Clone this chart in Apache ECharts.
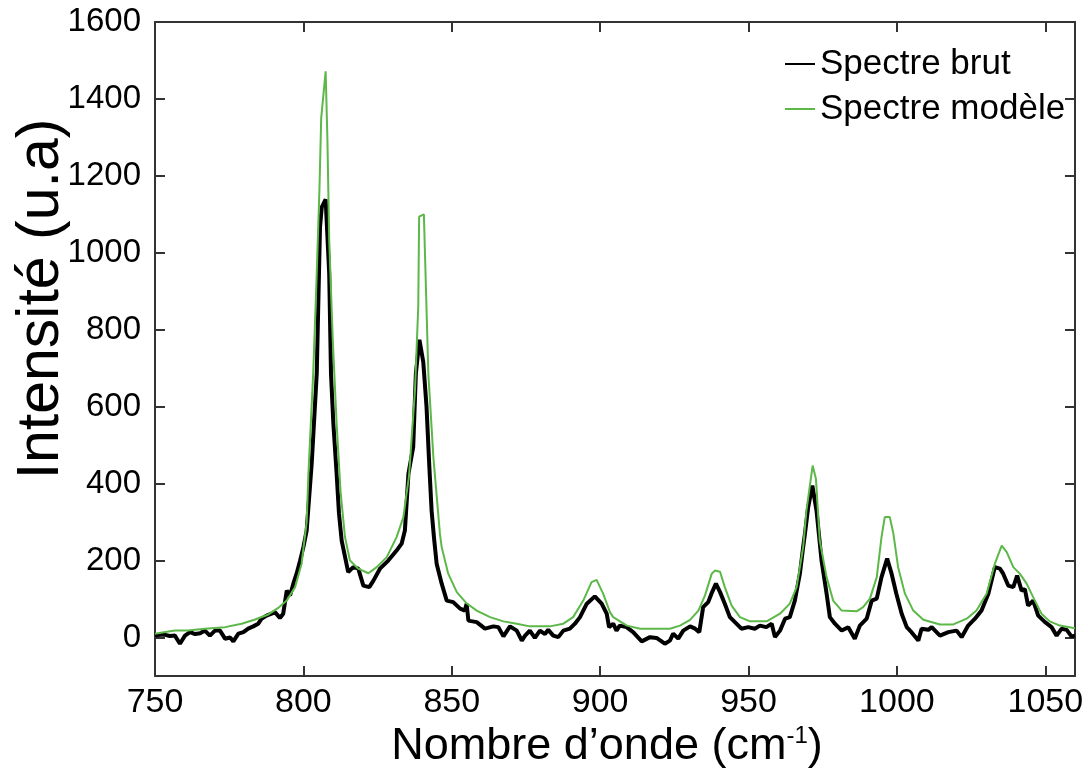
<!DOCTYPE html>
<html>
<head>
<meta charset="utf-8">
<script src="https://cdn.jsdelivr.net/npm/echarts@6/dist/echarts.min.js"></script>
<style>
  html, body { margin: 0; padding: 0; background: #fff; }
  #chart { width: 1088px; height: 769px; }
</style>
</head>
<body>
<div id="chart"></div>
<script>
// Spectre brut (raw spectrum)
var rawX = [750, 751.7, 753.4, 755, 756.7, 758.4, 760.1, 761.8, 763.5, 765.2, 766.8, 768.5, 770.2, 771.9, 773.6, 775.3, 776.4, 778.1, 779.8, 781.4,
  783.1, 784.8, 785.9, 787.6, 789.3, 790.4, 792.1, 793.2, 794.4, 795.5, 796.6, 797.7, 798.9, 800, 801.1, 802.8, 804.5, 805.6, 806.2, 807.5,
  808.7, 809.3, 810.1, 811.2, 812, 812.9, 815.1, 816.8, 818.5, 820.2, 822.2, 823.6, 825.8, 828.6, 831.4, 833.1, 834.2, 835.4, 837, 837.9,
  839.1, 840.4, 841.5, 842.4, 843.2, 844, 844.9, 846.6, 848.3, 850.5, 852.8, 854.4, 855, 855.6, 858.4, 861.2, 864, 865.7, 867.4, 869.6,
  871.9, 873.6, 874.7, 876.3, 878, 879.7, 881.4, 882.5, 884.2, 885.9, 887.6, 889.8, 891.5, 893.2, 895.5, 898.2, 900.5, 902.2, 903, 904.4,
  905.5, 906.6, 908.9, 911.1, 914, 916.8, 919, 921.8, 923.5, 924.6, 926.3, 928, 930.3, 932, 933.4, 934.7, 936.4, 937.5, 939, 940.4,
  942, 943.7, 945.4, 947.6, 949.9, 952.1, 953.8, 956, 957.8, 958.9, 960.6, 962.3, 963.9, 965.6, 967.3, 968.4, 969, 970.1, 971.5, 972.9,
  974.6, 976.3, 977.4, 979.1, 981.4, 983.6, 985.8, 987.5, 989.8, 991.5, 993.2, 994.8, 996.7, 998.2, 999.8, 1001.6, 1003.3, 1004.9, 1007.2, 1008.3,
  1010.6, 1011.7, 1014.5, 1017.3, 1020.1, 1021.8, 1024, 1026.3, 1028.5, 1030.8, 1033, 1034.7, 1035.8, 1037.5, 1039.2, 1040.5, 1042, 1043.1, 1044.2, 1045.9,
  1047.6, 1049.9, 1052.1, 1053.8, 1055.5, 1057.2, 1058.8, 1060];
var rawY = [5, 7, 7, 4, 5, -16, 5, 14, 9, 11, 18, 5, 18, 18, -3, 0, -10, 10, 14, 23,
  29, 36, 49, 57, 62, 66, 51, 62, 122, 109, 140, 166, 200, 235, 278, 452, 686, 1067, 1119, 1139,
  946, 686, 556, 426, 322, 252, 170, 183, 179, 135, 131, 148, 179, 200, 226, 244, 278, 426, 495, 686,
  774, 716, 599, 450, 330, 260, 192, 140, 96, 92, 75, 70, 88, 44, 40, 23, 29, 27, 3, 29,
  18, -8, 5, 18, -1, 18, 9, 20, 5, 1, 18, 23, 36, 53, 88, 107, 88, 62, 27, 36,
  18, 31, 27, 14, -10, 1, -1, -16, -8, 10, -3, 18, 29, 23, 14, 79, 92, 114, 140, 118,
  88, 53, 40, 23, 27, 23, 31, 27, 36, 1, 18, 49, 53, 96, 166, 235, 270, 339, 395, 330,
  200, 114, 53, 36, 18, 27, -3, 31, 49, 96, 101, 157, 205, 166, 114, 62, 27, 14, -8, 23,
  20, 27, 5, 14, 18, 1, 31, 49, 70, 114, 183, 179, 166, 135, 131, 161, 122, 126, 83, 96,
  57, 40, 27, 5, 23, 20, 3, 5];

// Spectre modele (fitted model)
var modelX = [750, 753, 756.7, 761, 766.8, 773.6, 779.2, 783.7, 788.2, 791.5, 794.4, 797.2, 799.4, 800.3, 801.1, 801.7, 803.3, 804.5, 805.4, 806,
  807.5, 808.1, 808.7, 809.9, 811.2, 812.5, 814, 815.7, 818.5, 821.9, 824.7, 828.1, 831.4, 833.7, 834.5, 835.6, 837.6, 838.7, 839, 840.6,
  842.1, 843.8, 846, 846.6, 848.8, 851.7, 855, 858.4, 862.9, 867.4, 871.9, 876.3, 883.1, 887.6, 890.9, 894.3, 897.1, 898.8, 901, 903.3,
  904.4, 909, 913.5, 923.5, 926.9, 930.3, 933.1, 935.3, 937.6, 938.7, 940.4, 942, 944.3, 947.1, 950.5, 956.1, 960.6, 963.9, 966.2, 968.4,
  969.5, 971.6, 972.7, 974, 976.3, 978.5, 981.4, 986.4, 988.6, 990.9, 993.2, 994.8, 995.9, 997.6, 998.8, 1000.4, 1002.7, 1005.5, 1008.9, 1014.5,
  1019, 1023.5, 1026.8, 1030.2, 1033, 1035.3, 1037, 1039.2, 1041.4, 1043.7, 1045.9, 1048.7, 1051.5, 1054.9, 1060];
var modelY = [10, 14, 18, 18, 23, 27, 36, 47, 60, 77, 96, 131, 192, 250, 300, 426, 686, 946, 1163, 1350,
  1472, 1293, 1033, 773, 556, 382, 262, 200, 179, 167, 183, 209, 261, 313, 360, 420, 643, 859, 1094, 1100,
  686, 469, 270, 235, 166, 118, 89, 70, 53, 42, 36, 29, 29, 36, 53, 96, 144, 150, 114, 66,
  53, 31, 23, 23, 31, 46, 70, 109, 166, 174, 171, 131, 83, 53, 42, 42, 62, 88, 131, 235,
  330, 447, 413, 252, 157, 96, 70, 68, 79, 101, 157, 261, 313, 313, 270, 183, 114, 70, 46, 34,
  34, 49, 70, 114, 192, 239, 222, 183, 166, 140, 105, 62, 42, 31, 24];

var xTicks = [750, 800, 850, 900, 950, 1000, 1050];
var yTicks = [0, 200, 400, 600, 800, 1000, 1200, 1400, 1600];

function pairs(xs, ys) {
  var out = [];
  for (var i = 0; i < xs.length; i++) out.push([xs[i], ys[i]]);
  return out;
}

var font = 'Liberation Sans, Arial, sans-serif';
var axisColor = '#333';
var plain = function (v) { return String(v); };

var chart = echarts.init(document.getElementById('chart'));

var baseX = {
  type: 'value', min: 750, max: 1060,
  axisLine: { show: true, onZero: false, lineStyle: { color: axisColor, width: 2 } },
  axisTick: { show: true, inside: true, length: 10, customValues: xTicks, lineStyle: { color: axisColor, width: 2 } },
  splitLine: { show: false }
};
var baseY = {
  type: 'value', min: -100, max: 1600,
  axisLine: { show: true, onZero: false, lineStyle: { color: axisColor, width: 2 } },
  axisTick: { show: true, inside: true, length: 10, customValues: yTicks, lineStyle: { color: axisColor, width: 2 } },
  splitLine: { show: false }
};

option = {
  animation: false,
  backgroundColor: '#fff',
  grid: { left: 155, right: 13, top: 22, bottom: 93, containLabel: false, outerBoundsMode: 'none' },
  legend: {
    orient: 'vertical',
    left: 780, top: 39,
    icon: 'rect',
    itemWidth: 30, itemHeight: 2, itemGap: 5,
    textStyle: { fontFamily: font, fontSize: 35, color: '#000', lineHeight: 40 },
    data: ['Spectre brut', 'Spectre modèle']
  },
  xAxis: [
    Object.assign({}, baseX, {
      position: 'bottom',
      name: 'Nombre d’onde (cm{sup|-1})',
      nameLocation: 'middle', nameGap: 48, nameMoveOverlap: false,
      nameTextStyle: { fontFamily: font, fontSize: 45, color: '#000', padding: [0, 16, 0, 0],
        rich: { sup: { fontFamily: font, fontSize: 24, color: '#000', verticalAlign: 'top', lineHeight: 44 } } },
      axisLabel: { show: true, customValues: xTicks, formatter: plain, margin: 10, fontFamily: font, fontSize: 34, color: '#000' }
    }),
    Object.assign({}, baseX, { position: 'top', axisLabel: { show: false } })
  ],
  yAxis: [
    Object.assign({}, baseY, {
      position: 'left',
      name: 'Intensité (u.a)',
      nameLocation: 'middle', nameGap: 84, nameRotate: 90, nameMoveOverlap: false,
      nameTextStyle: { fontFamily: font, fontSize: 59, color: '#000', padding: [0, 0, 0, 100] },
      axisLabel: { show: true, customValues: yTicks, formatter: plain, margin: 14, fontFamily: font, fontSize: 33, color: '#000' }
    }),
    Object.assign({}, baseY, { position: 'right', axisLabel: { show: false } })
  ],
  series: [
    {
      name: 'Spectre brut', type: 'line', xAxisIndex: 0, yAxisIndex: 0,
      data: pairs(rawX, rawY),
      symbol: 'none', showSymbol: false,
      lineStyle: { color: '#000', width: 4 },
      itemStyle: { color: '#000' }
    },
    {
      name: 'Spectre modèle', type: 'line', xAxisIndex: 0, yAxisIndex: 0,
      data: pairs(modelX, modelY),
      symbol: 'none', showSymbol: false,
      lineStyle: { color: '#5cb848', width: 2 },
      itemStyle: { color: '#5cb848' }
    }
  ]
};
chart.setOption(option);
</script>
</body>
</html>
